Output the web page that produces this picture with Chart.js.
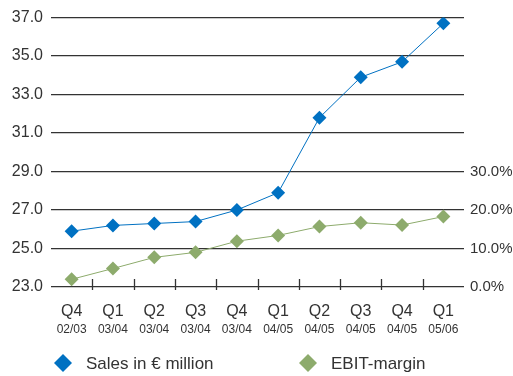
<!DOCTYPE html>
<html>
<head>
<meta charset="utf-8">
<script src="https://cdn.jsdelivr.net/npm/chart.js@4/dist/chart.umd.min.js"></script>
<style>
  html, body { margin: 0; padding: 0; background: #fff; }
  #wrap { width: 513px; height: 376px; }
</style>
</head>
<body>
<div id="wrap"><canvas id="chart1" width="513" height="376"></canvas></div>
<script>
// quarters and fiscal years for the two label rows
var quarters = ["Q4", "Q1", "Q2", "Q3", "Q4", "Q1", "Q2", "Q3", "Q4", "Q1"];
var periods = ["02/03", "03/04", "03/04", "03/04", "03/04", "04/05", "04/05", "04/05", "04/05", "05/06"];

// sales (EUR million) and EBIT margin (%)
var sales = [25.9, 26.2, 26.3, 26.4, 27.0, 27.9, 31.8, 33.9, 34.7, 36.7];
var ebitMargin = [2.0, 4.8, 7.7, 9.0, 11.9, 13.4, 15.7, 16.7, 16.1, 18.3];

var blue = "#0071c2";
var green = "#8dab6c";
var txt = "#333333";
var fam = "'Liberation Sans', Arial, sans-serif";

// little tick marks between the categories, crossing the base line
var betweenTicks = {
  id: 'betweenTicks',
  afterDatasetsDraw: function(chart) {
    var x = chart.scales.x;
    var bottom = chart.chartArea.bottom;
    var ctx = chart.ctx;
    ctx.save();
    ctx.strokeStyle = "#333";
    ctx.lineWidth = 1.3;
    for (var i = 1; i < quarters.length; i++) {
      var px = (x.getPixelForValue(i - 1) + x.getPixelForValue(i)) / 2;
      ctx.beginPath();
      ctx.moveTo(Math.round(px) + 0.5, bottom - 8);
      ctx.lineTo(Math.round(px) + 0.5, bottom + 3);
      ctx.stroke();
    }
    ctx.restore();
  }
};

// legend row under the chart, one item per dataset
var legendX = [63, 308];
var bottomLegend = {
  id: 'bottomLegend',
  afterDraw: function(chart) {
    var ctx = chart.ctx;
    var y = 363;
    ctx.save();
    ctx.font = "17px " + fam;
    ctx.textBaseline = "middle";
    ctx.textAlign = "left";
    chart.data.datasets.forEach(function(ds, i) {
      ctx.fillStyle = ds.backgroundColor;
      Chart.helpers.drawPoint(ctx, { pointStyle: 'rectRot', radius: 9, rotation: 0, borderWidth: 0 }, legendX[i], y);
      ctx.fillStyle = txt;
      ctx.fillText(ds.label, legendX[i] + 23, y + 1);
    });
    ctx.restore();
  }
};

var configg = {
  type: 'line',
  data: {
    labels: quarters,
    datasets: [{
      label: "Sales in € million",
      data: sales,
      yAxisID: 'y',
      borderColor: blue,
      backgroundColor: blue,
      borderWidth: 1,
      pointStyle: 'rectRot',
      pointRadius: 7,
      pointHoverRadius: 7,
      pointBorderWidth: 0,
      tension: 0
    }, {
      label: "EBIT-margin",
      data: ebitMargin,
      yAxisID: 'y2',
      borderColor: green,
      backgroundColor: green,
      borderWidth: 1,
      pointStyle: 'rectRot',
      pointRadius: 7,
      pointHoverRadius: 7,
      pointBorderWidth: 0,
      tension: 0
    }]
  },
  options: {
    responsive: false,
    animation: false,
    layout: { padding: { top: 8, bottom: 40 } },
    plugins: {
      tooltip: { enabled: false },
      legend: { display: false }
    },
    scales: {
      x: {
        type: 'category',
        offset: true,
        grid: { display: false, drawTicks: false },
        border: { display: false },
        ticks: { color: txt, font: { family: fam, size: 16 }, padding: 15, maxRotation: 0 },
        afterFit: function(s) { s.height = 34; }
      },
      x2: {
        type: 'category',
        labels: periods,
        position: 'bottom',
        offset: true,
        grid: { display: false, drawTicks: false },
        border: { display: false },
        ticks: { color: txt, font: { family: fam, size: 12 }, padding: 1, maxRotation: 0 },
        afterFit: function(s) { s.height = 15; }
      },
      y: {
        position: 'left',
        min: 23, max: 37,
        ticks: {
          stepSize: 2,
          color: txt,
          padding: 8,
          font: { family: fam, size: 16 },
          callback: function(v) { return v.toFixed(1); }
        },
        grid: { color: "#333", lineWidth: 1.3, drawTicks: false },
        border: { display: false },
        afterFit: function(s) { s.width = 51; }
      },
      y2: {
        position: 'right',
        min: 0, max: 70,
        ticks: {
          stepSize: 10,
          color: txt,
          padding: 6,
          font: { family: fam, size: 15 },
          callback: function(v) { return v <= 30 ? v.toFixed(1) + "%" : ""; }
        },
        grid: { display: false, drawTicks: false },
        border: { display: false },
        afterFit: function(s) { s.width = 49; }
      }
    }
  },
  plugins: [betweenTicks, bottomLegend]
};

var ctx2 = document.getElementById("chart1");
var myChart = new Chart(ctx2, configg);
</script>
</body>
</html>
